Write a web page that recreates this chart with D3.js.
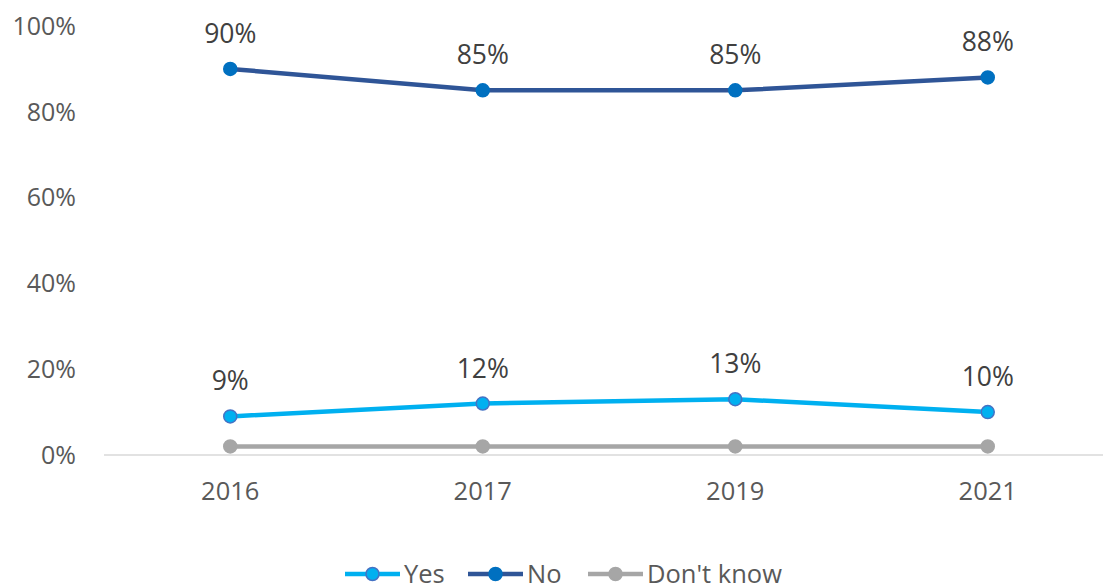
<!DOCTYPE html>
<html>
<head>
<meta charset="utf-8">
<script src="https://cdn.jsdelivr.net/npm/d3@7"></script>
<style>
  body { margin: 0; background: #fff; }
  text { font-family: "Open Sans", sans-serif; }
</style>
</head>
<body>
<svg id="chart" width="1103" height="587"></svg>
<script>
// chart data
var years = ["2016", "2017", "2019", "2021"];
var yesValues = [9, 12, 13, 10];
var noValues = [90, 85, 85, 88];
var dontKnowValues = [2, 2, 2, 2];
var yTicks = [0, 20, 40, 60, 80, 100];

var series = [
  { name: "Yes", values: yesValues, line: "#00b0f0", fill: "#00b0f0", stroke: "#4472c4", labels: true },
  { name: "No", values: noValues, line: "#2f5597", fill: "#0070c0", stroke: "#0070c0", labels: true },
  { name: "Don't know", values: dontKnowValues, line: "#a6a6a6", fill: "#a6a6a6", stroke: "#a6a6a6", labels: false }
];

var svg = d3.select("#chart");

var x = d3.scaleBand()
  .domain(years)
  .range([104, 1114]);

var y = d3.scaleLinear()
  .domain([0, 100])
  .range([455, 26]);

// y axis labels (no line)
svg.selectAll(".ytick")
  .data(yTicks)
  .enter()
  .append("text")
  .attr("class", "ytick")
  .attr("x", 76)
  .attr("y", function(d) { return y(d); })
  .attr("dy", "0.35em")
  .attr("text-anchor", "end")
  .style("font-size", "25px")
  .style("fill", "#595959")
  .text(function(d) { return d + "%"; });

// baseline
svg.append("line")
  .attr("x1", 104)
  .attr("x2", 1114)
  .attr("y1", y(0))
  .attr("y2", y(0))
  .style("stroke", "#d9d9d9")
  .style("stroke-width", 1.5);

// x labels
svg.selectAll(".xtick")
  .data(years)
  .enter()
  .append("text")
  .attr("class", "xtick")
  .attr("x", function(d) { return x(d) + x.bandwidth() / 2; })
  .attr("y", 500)
  .attr("text-anchor", "middle")
  .style("font-size", "25.5px")
  .style("fill", "#595959")
  .text(function(d) { return d; });

var line = d3.line()
  .x(function(d, i) { return x(years[i]) + x.bandwidth() / 2; })
  .y(function(d) { return y(d); });

// draw grey first so others sit on top
var order = [series[2], series[0], series[1]];

order.forEach(function(s) {
  var g = svg.append("g");

  g.append("path")
    .datum(s.values)
    .attr("d", line)
    .style("fill", "none")
    .style("stroke", s.line)
    .style("stroke-width", 4.5)
    .style("stroke-linejoin", "round");

  g.selectAll("circle")
    .data(s.values)
    .enter()
    .append("circle")
    .attr("cx", function(d, i) { return x(years[i]) + x.bandwidth() / 2; })
    .attr("cy", function(d) { return y(d); })
    .attr("r", 6.5)
    .style("fill", s.fill)
    .style("stroke", s.stroke)
    .style("stroke-width", 1.5);

  if (s.labels) {
    g.selectAll("text")
      .data(s.values)
      .enter()
      .append("text")
      .attr("x", function(d, i) { return x(years[i]) + x.bandwidth() / 2; })
      .attr("y", function(d) { return y(d) - 26; })
      .attr("text-anchor", "middle")
      .style("font-size", "26.5px")
      .style("fill", "#404040")
      .text(function(d) { return d + "%"; });
  }
});

// legend
var legendX = [345, 468, 588];
var legend = svg.selectAll(".legend")
  .data(series)
  .enter()
  .append("g")
  .attr("class", "legend")
  .attr("transform", function(d, i) { return "translate(" + legendX[i] + ",574)"; });

legend.append("line")
  .attr("x1", 0)
  .attr("x2", 55)
  .style("stroke", function(d) { return d.line; })
  .style("stroke-width", 4.5);

legend.append("circle")
  .attr("cx", 27.5)
  .attr("r", 6.5)
  .style("fill", function(d) { return d.fill; })
  .style("stroke", function(d) { return d.stroke; })
  .style("stroke-width", 1.5);

legend.append("text")
  .attr("x", 59)
  .attr("dy", "0.35em")
  .style("font-size", "25.5px")
  .style("fill", "#595959")
  .text(function(d) { return d.name; });
</script>
</body>
</html>
